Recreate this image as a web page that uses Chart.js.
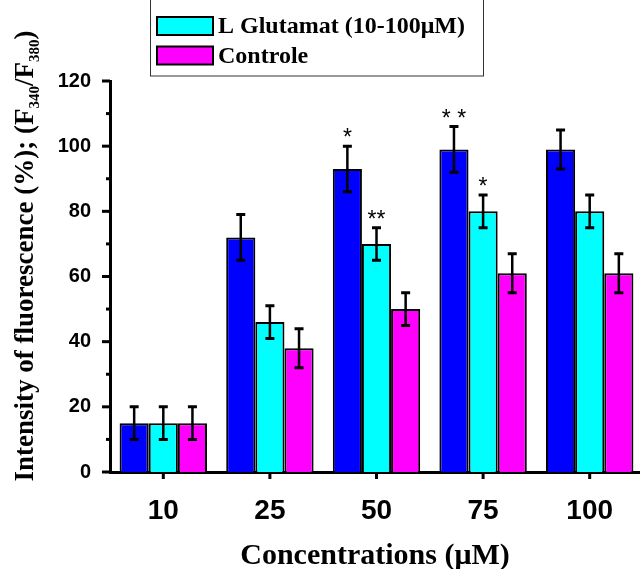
<!DOCTYPE html>
<html><head><meta charset="utf-8">
<script src="https://cdn.jsdelivr.net/npm/chart.js@4.4.0/dist/chart.umd.min.js"></script>
<style>
html,body{margin:0;padding:0;background:#fff;overflow:hidden;width:640px;height:569px}
#wrap{position:relative;width:646px;height:569px}
</style></head>
<body><div id="wrap"><canvas id="c" width="646" height="569"></canvas></div>
<script>
const categories = ['10', '25', '50', '75', '100'];
const seriesLabels = ['Série 1', 'L Glutamat (10-100μM)', 'Controle'];
const blueValues = [15, 72, 93, 99, 99];
const blueErrors = [5, 7, 7, 7, 6];
const cyanValues = [15, 46, 70, 80, 80];
const cyanErrors = [5, 5, 5, 5, 5];
const magentaValues = [15, 38, 50, 61, 61];
const magentaErrors = [5, 6, 5, 6, 6];
const blueSignif = ['', '', '*', '* *', ''];
const cyanSignif = ['', '', '**', '*', ''];
const magentaSignif = ['', '', '', '', ''];
const yTicks = [0, 20, 40, 60, 80, 100, 120];
const xTitle = 'Concentrations (μM)';
const yTitleParts = [
  {t: 'Intensity of fluorescence (%); (F', sub: false},
  {t: '340', sub: true},
  {t: '/F', sub: false},
  {t: '380', sub: true},
  {t: ')', sub: false}
];

const colors = ['#0000FF', '#00FFFF', '#FF00FF'];
const errs = [blueErrors, cyanErrors, magentaErrors];
const signifs = [blueSignif, cyanSignif, magentaSignif];

const extras = {
  id: 'extras',
  afterDatasetsDraw(chart) {
    const ctx = chart.ctx;
    const y = chart.scales.y;
    ctx.save();
    chart.data.datasets.forEach((ds, i) => {
      const meta = chart.getDatasetMeta(i);
      meta.data.forEach((bar, j) => {
        const v = ds.data[j], e = errs[i][j];
        const yt = y.getPixelForValue(v + e), yb = y.getPixelForValue(v - e);
        ctx.strokeStyle = '#000';
        ctx.lineWidth = 2.5;
        ctx.beginPath();
        ctx.moveTo(bar.x, yt); ctx.lineTo(bar.x, yb);
        ctx.stroke();
        ctx.lineWidth = 3;
        ctx.beginPath();
        ctx.moveTo(bar.x - 4.5, yt); ctx.lineTo(bar.x + 4.5, yt);
        ctx.moveTo(bar.x - 4.5, yb); ctx.lineTo(bar.x + 4.5, yb);
        ctx.stroke();
        const s = signifs[i][j];
        if (s) {
          ctx.fillStyle = '#000';
          ctx.font = '23px "Liberation Sans", Arial';
          ctx.textAlign = 'center';
          ctx.textBaseline = 'alphabetic';
          ctx.fillText(s, bar.x, yt - 1);
        }
      });
    });
    ctx.restore();
  },
  afterDraw(chart) {
    const ctx = chart.ctx;
    const x = chart.scales.x, y = chart.scales.y;
    const ca = chart.chartArea;
    ctx.save();
    ctx.strokeStyle = '#000';
    ctx.lineWidth = 3;
    for (let v = 0; v <= 120; v += 10) {
      const py = y.getPixelForValue(v);
      const len = v % 20 === 0 ? 8 : 4;
      ctx.beginPath();
      ctx.moveTo(ca.left - len, py); ctx.lineTo(ca.left, py);
      ctx.stroke();
    }
    categories.forEach((c, i) => {
      const px = x.getPixelForValue(i);
      ctx.beginPath();
      ctx.moveTo(px, ca.bottom); ctx.lineTo(px, ca.bottom + 7);
      ctx.stroke();
    });
    ctx.fillStyle = '#000';
    ctx.font = 'bold 30px "Liberation Serif", "Times New Roman", serif';
    ctx.textAlign = 'center';
    ctx.textBaseline = 'alphabetic';
    ctx.fillText(xTitle, 375, 564);
    const mainFont = 'bold 27px "Liberation Serif", "Times New Roman", serif';
    const subFont = 'bold 15px "Liberation Serif", "Times New Roman", serif';
    let total = 0;
    yTitleParts.forEach(p => { ctx.font = p.sub ? subFont : mainFont; total += ctx.measureText(p.t).width; });
    ctx.translate(33, 256);
    ctx.rotate(-Math.PI / 2);
    let cx = -total / 2;
    ctx.textAlign = 'left';
    yTitleParts.forEach(p => {
      ctx.font = p.sub ? subFont : mainFont;
      ctx.fillText(p.t, cx, p.sub ? 6 : 0);
      cx += ctx.measureText(p.t).width;
    });
    ctx.setTransform(1, 0, 0, 1, 0, 0);
    // legend: its first row lies above the cropped top edge of the picture
    ctx.lineWidth = 1;
    ctx.strokeStyle = '#333';
    ctx.strokeRect(150.5, -40, 333, 116);
    const rowY = [-30, 26, 55.5];
    chart.data.datasets.forEach((ds, i) => {
      const cy = rowY[i];
      ctx.fillStyle = ds.backgroundColor;
      ctx.fillRect(157, cy - 9, 56, 18);
      ctx.lineWidth = 2;
      ctx.strokeStyle = '#000';
      ctx.strokeRect(157, cy - 9, 56, 18);
      ctx.fillStyle = '#000';
      ctx.font = 'bold 24px "Liberation Serif", "Times New Roman", serif';
      ctx.textBaseline = 'middle';
      ctx.textAlign = 'left';
      ctx.fillText(ds.label, 218, cy + 1);
    });
    ctx.restore();
  }
};

new Chart(document.getElementById('c'), {
  type: 'bar',
  data: {
    labels: categories,
    datasets: [
      {label: seriesLabels[0], data: blueValues, backgroundColor: colors[0]},
      {label: seriesLabels[1], data: cyanValues, backgroundColor: colors[1]},
      {label: seriesLabels[2], data: magentaValues, backgroundColor: colors[2]}
    ].map(d => Object.assign(d, {borderColor: '#000', borderWidth: 2, categoryPercentage: 0.82, barPercentage: 1.0}))
  },
  options: {
    responsive: false,
    devicePixelRatio: 1,
    animation: false,
    layout: {padding: {top: 81, right: 3, bottom: 0, left: 0}},
    plugins: {legend: {display: false}, tooltip: {enabled: false}},
    scales: {
      x: {
        grid: {display: false},
        border: {display: true, color: '#000', width: 3},
        ticks: {color: '#000', font: {family: '"Liberation Sans", Arial', weight: 'bold', size: 28}, padding: 14},
        afterFit(s) { s.height = 97; }
      },
      y: {
        min: 0, max: 120,
        afterBuildTicks(s) { s.ticks = yTicks.map(v => ({value: v})); },
        grid: {display: false},
        border: {display: true, color: '#000', width: 3},
        ticks: {color: '#000', font: {family: '"Liberation Sans", Arial', weight: 'bold', size: 20}, padding: 11},
        afterFit(s) { s.width = 110; }
      }
    }
  },
  plugins: [extras]
});
</script>
</body></html>
